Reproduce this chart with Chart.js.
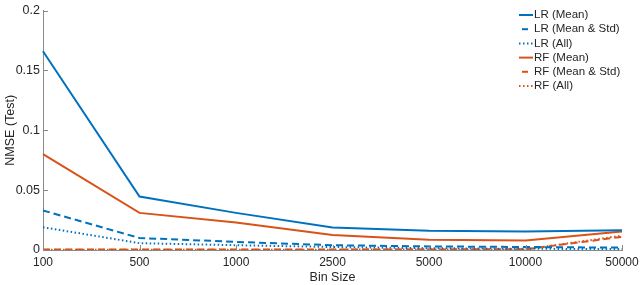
<!DOCTYPE html>
<html>
<head>
<meta charset="utf-8">
<script src="https://cdn.jsdelivr.net/npm/chart.js@4"></script>
<style>
  html, body { margin: 0; padding: 0; background: #fff; }
  #wrap { width: 640px; height: 285px; position: relative; }
</style>
</head>
<body>
<div id="wrap"><canvas id="chart"></canvas></div>
<script>
// bin sizes (categorical x axis)
const binSizes = ['100', '500', '1000', '2500', '5000', '10000', '50000'];

// NMSE on test set
const lrMean      = [0.166, 0.0447, 0.031, 0.0187, 0.016, 0.0155, 0.0165];
const lrMeanStd   = [0.033, 0.0100, 0.0068, 0.004, 0.003, 0.0025, 0.002];
const lrAll       = [0.019, 0.0057, 0.0040, 0.0025, 0.0015, 0.001, 0.0008];
const rfMean      = [0.080, 0.031, 0.023, 0.0125, 0.0085, 0.008, 0.0155];
const rfMeanStd   = [0.0004, 0.0004, 0.0004, 0.0004, 0.0005, 0.0006, 0.011];
const rfAll       = [0.0003, 0.0003, 0.0003, 0.0003, 0.0004, 0.0005, 0.012];

const yTicks = [0, 0.05, 0.1, 0.15, 0.2];

const BLUE = '#0072BD';
const ORANGE = '#D95319';
const AXIS = '#8a8a8a';
const TEXT = '#262626';
const FONT = '"Liberation Sans", Arial, sans-serif';

const DASH = [7, 4];
const DOT = [1.5, 2.5];

function series(label, data, color, dash) {
    return {
        label: label,
        data: data,
        borderColor: color,
        backgroundColor: color,
        borderWidth: 2,
        borderDash: dash,
        pointRadius: 0,
        tension: 0,
        fill: false
    };
}

// inward tick marks (MATLAB style)
const innerTicks = {
    id: 'innerTicks',
    afterDraw(chart) {
        const ctx = chart.ctx;
        const area = chart.chartArea;
        const xs = chart.scales.x, ys = chart.scales.y;
        ctx.save();
        ctx.strokeStyle = AXIS;
        ctx.lineWidth = 1;
        ctx.beginPath();
        xs.ticks.forEach((t, i) => {
            const px = Math.round(xs.getPixelForTick(i)) + 0.5;
            ctx.moveTo(px, area.bottom);
            ctx.lineTo(px, area.bottom - 5);
        });
        ys.ticks.forEach((t, i) => {
            const py = Math.round(ys.getPixelForTick(i)) + 0.5;
            ctx.moveTo(area.left, py);
            ctx.lineTo(area.left + 5, py);
        });
        ctx.stroke();
        ctx.restore();
    }
};

// legend drawn inside the plot, top right
const lineLegend = {
    id: 'lineLegend',
    afterDraw(chart) {
        const ctx = chart.ctx;
        const x0 = 519, lineLen = 14, y0 = 15, rowH = 14.2;
        ctx.save();
        ctx.font = '11.5px ' + FONT;
        ctx.textBaseline = 'middle';
        chart.data.datasets.forEach((ds, i) => {
            const y = y0 + i * rowH;
            ctx.strokeStyle = ds.borderColor;
            ctx.lineWidth = 2;
            if (ds.borderDash && ds.borderDash[0] > 3) {
                ctx.setLineDash([]);
                ctx.beginPath();
                ctx.moveTo(x0 + 3, y);
                ctx.lineTo(x0 + 9, y);
                ctx.stroke();
            } else {
                ctx.setLineDash(ds.borderDash || []);
                ctx.beginPath();
                ctx.moveTo(x0, y);
                ctx.lineTo(x0 + lineLen, y);
                ctx.stroke();
            }
            ctx.setLineDash([]);
            ctx.fillStyle = TEXT;
            ctx.fillText(ds.label, x0 + lineLen + 1, y);
        });
        ctx.restore();
    }
};

new Chart(document.getElementById('chart'), {
    type: 'line',
    data: {
        labels: binSizes,
        datasets: [
            series('LR (Mean)', lrMean, BLUE, []),
            series('LR (Mean & Std)', lrMeanStd, BLUE, DASH),
            series('LR (All)', lrAll, BLUE, DOT),
            series('RF (Mean)', rfMean, ORANGE, []),
            series('RF (Mean & Std)', rfMeanStd, ORANGE, DASH),
            series('RF (All)', rfAll, ORANGE, DOT)
        ]
    },
    options: {
        responsive: true,
        maintainAspectRatio: false,
        animation: false,
        layout: { padding: { top: 4, right: 0, left: 0, bottom: 0 } },
        plugins: {
            legend: { display: false },
            tooltip: { enabled: false }
        },
        scales: {
            x: {
                offset: false,
                grid: { display: false, drawTicks: false },
                border: { display: true, color: AXIS, width: 1 },
                ticks: {
                    color: TEXT,
                    font: { family: FONT, size: 12 },
                    padding: 5,
                    maxRotation: 0,
                    autoSkip: false
                },
                title: {
                    display: true,
                    text: 'Bin Size',
                    color: TEXT,
                    font: { family: FONT, size: 12.5 },
                    padding: { top: 0, bottom: 0 }
                },
                afterFit: (scale) => {
                    scale.height = 35;
                    scale.paddingRight = 18;
                }
            },
            y: {
                min: 0,
                max: 0.2,
                afterBuildTicks: (scale) => {
                    scale.ticks = yTicks.map(v => ({ value: v }));
                },
                grid: { display: false, drawTicks: false },
                border: { display: true, color: AXIS, width: 1 },
                ticks: {
                    color: TEXT,
                    font: { family: FONT, size: 12.5 },
                    padding: 3,
                    callback: (v) => String(v)
                },
                title: {
                    display: true,
                    text: 'NMSE (Test)',
                    color: TEXT,
                    font: { family: FONT, size: 12.5 },
                    padding: { top: 3, bottom: 1 }
                },
                afterFit: (scale) => { scale.width = 43; }
            }
        }
    },
    plugins: [innerTicks, lineLegend]
});
</script>
</body>
</html>
